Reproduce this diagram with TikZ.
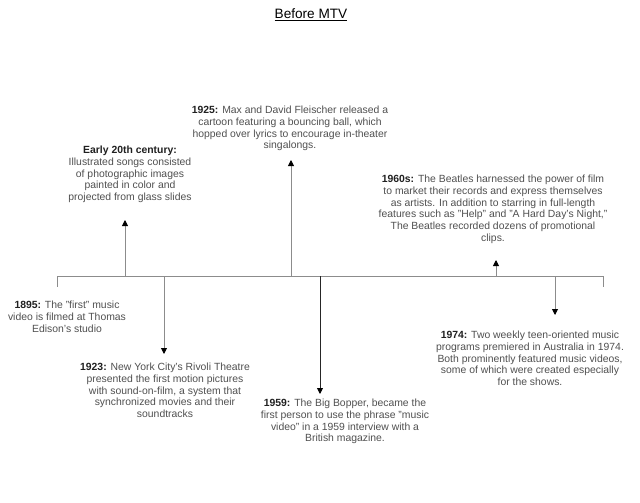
\documentclass[tikz,border=0pt]{standalone}
\usepackage{fontspec}
\setmainfont{Liberation Sans}
\usetikzlibrary{arrows.meta}
\definecolor{linegray}{HTML}{8C8C8C}
\definecolor{txtgray}{HTML}{505050}
\definecolor{boldgray}{HTML}{202020}
\tikzset{
  tline/.style={draw=linegray, line width=0.9pt},
  arr/.style={draw=linegray, line width=0.9pt, -{Triangle[length=6pt,width=6pt,color=black]}},
  darr/.style={draw=black!85, line width=0.9pt, -{Triangle[length=6pt,width=6pt,color=black]}},
  evt/.style={align=center, anchor=north, inner sep=0pt, text=txtgray,
    font=\fontsize{10.4}{11.9}\selectfont},
}
\newcommand{\yr}[1]{\textbf{\color{boldgray}#1}}
\begin{document}
\begin{tikzpicture}[x=1pt,y=-1pt]
\useasboundingbox (0,0) rectangle (640,503);
\fill[white] (0,0) rectangle (640,503);
\node[text=black, font=\fontsize{13.6}{15}\selectfont, inner sep=0pt] (title) at (311,15) {\underline{Before MTV}};

% timeline
\coordinate (L) at (57,276);
\coordinate (R) at (603,276);
\draw[tline] (L) -- (R);
\coordinate (Lb) at (57,287);
\coordinate (Rb) at (603,287);
\draw[tline] (L) -- (Lb);
\draw[tline] (R) -- (Rb);

% anchors on timeline
\coordinate (t1) at (125,276);
\coordinate (t2) at (164,276);
\coordinate (t3) at (291,276);
\coordinate (t4) at (320,276);
\coordinate (t5) at (496,276);
\coordinate (t6) at (555,276);

% end points
\coordinate (e1) at (125,220);
\coordinate (e2) at (164,354);
\coordinate (e3) at (291,160);
\coordinate (e4) at (320,394);
\coordinate (e5) at (496,260);
\coordinate (e6) at (555,315);

\draw[arr] (t1) -- (e1);
\draw[arr] (t2) -- (e2);
\draw[arr] (t3) -- (e3);
\draw[darr] (t4) -- (e4);
\draw[arr] (t5) -- (e5);
\draw[arr] (t6) -- (e6);

% texts
\node[evt] (early) at (130,145.5) {\yr{Early 20th century:}\\Illustrated songs consisted\\of photographic images\\painted in color and\\projected from glass slides};
\node[evt] (y1925) at (290,105.5) {\yr{1925:} Max and David Fleischer released a\\cartoon featuring a bouncing ball, which\\hopped over lyrics to encourage in-theater\\singalongs.};
\node[evt] (y1960) at (493,174.5) {\yr{1960s:} The Beatles harnessed the power of film\\to market their records and express themselves\\as artists. In addition to starring in full-length\\features such as "Help" and "A Hard Day's Night,"\\The Beatles recorded dozens of promotional\\clips.};
\node[evt] (y1895) at (67,300.5) {\yr{1895:} The "first" music\\video is filmed at Thomas\\Edison's studio};
\node[evt] (y1923) at (165,362.5) {\yr{1923:} New York City's Rivoli Theatre\\presented the first motion pictures\\with sound-on-film, a system that\\synchronized movies and their\\soundtracks};
\node[evt] (y1959) at (345,398.5) {\yr{1959:} The Big Bopper, became the\\first person to use the phrase "music\\video" in a 1959 interview with a\\British magazine.};
\node[evt] (y1974) at (530,330.5) {\yr{1974:} Two weekly teen-oriented music\\programs premiered in Australia in 1974.\\Both prominently featured music videos,\\some of which were created especially\\for the shows.};
\end{tikzpicture}
\end{document}
